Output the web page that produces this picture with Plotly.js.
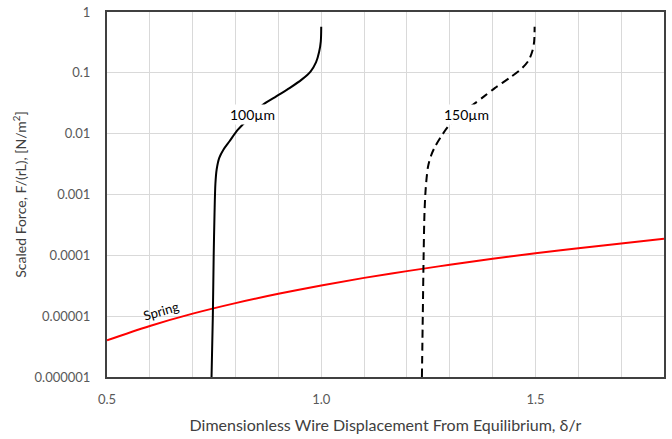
<!DOCTYPE html>
<html>
<head>
<meta charset="utf-8">
<script src="https://cdn.plot.ly/plotly-3.0.1.min.js"></script>
<style>
  html, body { margin: 0; padding: 0; background: #ffffff; }
  #chart { width: 672px; height: 439px; }
</style>
</head>
<body>
<div id="chart"></div>
<script>
// Force-displacement curves for two wire diameters, plus the spring reference line
const wire100X = [0.744, 0.747, 0.749, 0.751, 0.753, 0.756, 0.762, 0.772, 0.786, 0.805, 0.830, 0.863, 0.895, 0.926, 0.955, 0.975, 0.988, 0.995, 0.999, 1.000];
const wire100Y = [1e-6, 1e-5, 1e-4, 5e-4, 1.5e-3, 2.6e-3, 4.0e-3, 5.5e-3, 7.5e-3, 1.15e-2, 1.75e-2, 2.95e-2, 4.1e-2, 5.6e-2, 7.8e-2, 0.105, 0.15, 0.22, 0.33, 0.57];

const wire150X = [1.235, 1.237, 1.239, 1.241, 1.244, 1.249, 1.256, 1.265, 1.279, 1.295, 1.320, 1.353, 1.380, 1.405, 1.440, 1.468, 1.484, 1.493, 1.497, 1.498];
const wire150Y = [1e-6, 1e-5, 1e-4, 5e-4, 1.3e-3, 2.8e-3, 4.3e-3, 6.0e-3, 8.8e-3, 1.28e-2, 2.0e-2, 2.95e-2, 4.1e-2, 5.6e-2, 8.3e-2, 0.118, 0.16, 0.23, 0.33, 0.57];

const springX = [0.5, 0.6, 0.7, 0.8, 0.9, 1.0, 1.1, 1.2, 1.3, 1.4, 1.5, 1.6, 1.7, 1.8];
const springY = [4.0e-6, 6.9e-6, 1.1e-5, 1.64e-5, 2.33e-5, 3.2e-5, 4.26e-5, 5.5e-5, 7.0e-5, 8.8e-5, 1.08e-4, 1.31e-4, 1.57e-4, 1.87e-4];

const yTickVals = [1e-6, 1e-5, 1e-4, 1e-3, 1e-2, 1e-1, 1];
const yTickText = ['0.000001', '0.00001', '0.0001', '0.001', '0.01', '0.1', '1'];
const xTickVals = [0.5, 1.0, 1.5];
const xTickText = ['0.5', '1.0', '1.5'];

const FONT = 'Lato, "Open Sans", sans-serif';
const TICK_COLOR = '#595959';

const traces = [
  {
    x: springX, y: springY, type: 'scatter', mode: 'lines',
    line: { color: '#ff0000', width: 2, shape: 'spline' }, name: 'Spring', hoverinfo: 'skip'
  },
  {
    x: wire100X, y: wire100Y, type: 'scatter', mode: 'lines',
    line: { color: '#000000', width: 2, shape: 'spline', smoothing: 0.8 }, name: '100µm', hoverinfo: 'skip'
  },
  {
    x: wire150X, y: wire150Y, type: 'scatter', mode: 'lines',
    line: { color: '#000000', width: 2, dash: '8px,5px', shape: 'spline', smoothing: 0.8 }, name: '150µm', hoverinfo: 'skip'
  }
];

const layout = {
  width: 672, height: 439,
  margin: { l: 107, r: 8, t: 12, b: 62 },
  paper_bgcolor: '#ffffff', plot_bgcolor: '#ffffff',
  showlegend: false,
  font: { family: FONT, color: TICK_COLOR, size: 13 },
  xaxis: {
    range: [0.5, 1.8],
    tickvals: xTickVals, ticktext: xTickText,
    ticks: '', showgrid: false, zeroline: false,
    showline: true, linecolor: '#404040', linewidth: 2, mirror: true,
    tickfont: { family: FONT, size: 13, color: TICK_COLOR },
    ticklabelstandoff: 9,
    minor: { dtick: 0.1, showgrid: true, gridcolor: '#d9d9d9', gridwidth: 1, ticks: '' },
    title: {
      text: 'Dimensionless Wire Displacement From Equilibrium, δ/r',
      font: { family: FONT, size: 16, color: '#404040' },
      standoff: 14
    },
    automargin: false
  },
  yaxis: {
    type: 'log',
    range: [-6, 0],
    tickvals: yTickVals, ticktext: yTickText,
    ticks: '', showgrid: true, gridcolor: '#d9d9d9', gridwidth: 1, zeroline: false,
    showline: true, linecolor: '#404040', linewidth: 2, mirror: true,
    tickfont: { family: FONT, size: 13, color: TICK_COLOR },
    ticklabelstandoff: 12,
    title: {
      text: 'Scaled Force, F/(rL), [N/m<sup>2</sup>]',
      font: { family: FONT, size: 14, color: '#404040' },
      standoff: 5
    },
    automargin: false
  },
  annotations: [
    {
      x: 0.84, y: Math.log10(0.0204), xref: 'x', yref: 'y',
      text: '100µm', showarrow: false, bgcolor: '#ffffff',
      font: { family: FONT, size: 14, color: '#000000' }, borderpad: 1
    },
    {
      x: 1.34, y: Math.log10(0.0204), xref: 'x', yref: 'y',
      text: '150µm', showarrow: false, bgcolor: '#ffffff',
      font: { family: FONT, size: 14, color: '#000000' }, borderpad: 1
    },
    {
      x: 0.625, y: Math.log10(1.22e-5), xref: 'x', yref: 'y',
      text: 'Spring', showarrow: false, textangle: -16,
      font: { family: FONT, size: 13, color: '#000000' }
    }
  ]
};

Plotly.newPlot('chart', traces, layout, { staticPlot: true, displayModeBar: false });
</script>
</body>
</html>
